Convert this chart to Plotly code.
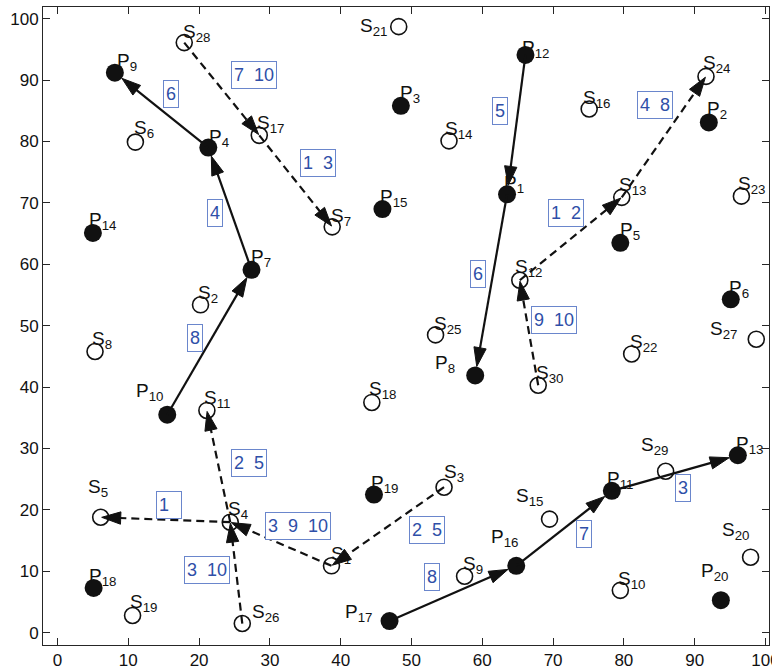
import plotly.graph_objects as go

# ---------------- data ----------------
p_ids = list(range(1, 21))
p_x = [63.5, 92.0, 48.5, 21.3, 79.5, 95.1, 27.4, 59.0, 8.1, 15.5,
       78.3, 66.1, 96.1, 5.0, 45.9, 64.8, 46.9, 5.1, 44.7, 93.7]
p_y = [71.4, 83.1, 85.8, 79.0, 63.5, 54.3, 59.1, 41.9, 91.2, 35.5,
       23.1, 94.1, 28.9, 65.1, 69.0, 10.9, 1.9, 7.3, 22.5, 5.3]

s_ids = list(range(1, 31))
s_x = [38.7, 20.2, 54.6, 24.4, 6.1, 11.0, 38.8, 5.3, 57.5, 79.5,
       21.1, 65.3, 79.7, 55.3, 69.5, 75.1, 28.5, 44.4, 10.6, 97.9,
       48.2, 81.1, 96.6, 91.6, 53.4, 26.1, 98.7, 17.9, 85.9, 67.9]
s_y = [10.9, 53.4, 23.7, 18.0, 18.8, 79.9, 66.1, 45.8, 9.2, 6.9,
       36.2, 57.4, 70.9, 80.1, 18.5, 85.3, 81.0, 37.5, 2.8, 12.3,
       98.7, 45.4, 71.1, 90.6, 48.5, 1.5, 47.8, 96.1, 26.3, 40.3]

# solid routes between P points (from, to)
p_routes = [(17, 16), (16, 11), (11, 13), (10, 7), (7, 4), (4, 9), (12, 1), (1, 8)]
# dashed routes between S points (from, to)
s_routes = [(28, 17), (17, 7), (26, 4), (4, 5), (4, 11), (1, 4), (3, 1), (30, 12), (12, 13), (13, 24)]

# route labels (vehicle numbers)
box_text = ["8", "7", "3", "8", "4", "6", "5", "6",
            "7 10", "1 3", "3 10", "1 ", "2 5", "3 9 10", "2 5", "9 10", "1 2", "4 8"]
box_x = [52.9, 74.3, 88.3, 19.4, 22.3, 16.0, 62.5, 59.4,
         27.7, 36.8, 21.1, 15.7, 27.0, 34.0, 52.2, 70.2, 71.8, 84.4]
box_y = [9.0, 16.1, 23.5, 48.0, 68.3, 87.7, 84.9, 58.4,
         90.8, 76.5, 10.2, 20.8, 27.6, 17.4, 16.7, 50.9, 68.3, 85.9]

x_ticks = [0, 10, 20, 30, 40, 50, 60, 70, 80, 90, 100]
y_ticks = [0, 10, 20, 30, 40, 50, 60, 70, 80, 90, 100]

# ---------------- styles ----------------
# label offsets in pixels (dx right, dy up) of label centre relative to marker
p_off = {1: (7, 10), 2: (8, 12), 3: (9, 12), 4: (11, 10), 5: (10, 12), 6: (8, 10),
         7: (10, 12), 8: (-30, 11), 9: (12, 11), 10: (-18, 23), 11: (9, 11), 12: (10, 6),
         13: (12, 10), 14: (10, 12), 15: (11, 11), 16: (-12, 28), 17: (-31, 8), 18: (9, 11),
         19: (11, 11), 20: (-6, 28)}
s_off = {1: (10, 11), 2: (7, 11), 3: (10, 14), 4: (8, 12), 5: (-3, 29), 6: (9, 13),
         7: (9, 10), 8: (7, 11), 9: (8, 11), 10: (11, 10), 11: (11, 11), 12: (9, 12),
         13: (11, 11), 14: (9, 11), 15: (-20, 22), 16: (7, 10), 17: (11, 11), 18: (11, 12),
         19: (11, 13), 20: (-15, 26), 21: (-25, 0), 22: (12, 11), 23: (10, 11), 24: (11, 12),
         25: (12, 10), 26: (23, 11), 27: (-33, 9), 28: (12, 10), 29: (-11, 25), 30: (11, 11)}

FONT = "Liberation Sans, Arial, Helvetica, sans-serif"
INK = "#111111"
BLUE_TXT = "#2f4fa8"
BLUE_BOX = "#6a86cc"

fig = go.Figure()

# markers
fig.add_trace(go.Scatter(x=s_x, y=s_y, mode="markers", hoverinfo="skip",
                         marker=dict(symbol="circle-open", size=16, color=INK, opacity=1,
                                     line=dict(width=1.6, color=INK)), showlegend=False))
fig.add_trace(go.Scatter(x=p_x, y=p_y, mode="markers", hoverinfo="skip",
                         marker=dict(symbol="circle", size=18, color=INK, opacity=1),
                         showlegend=False))


def add_arrow(x0, y0, x1, y1, dash, standoff):
    fig.add_trace(go.Scatter(
        x=[x0, x1], y=[y0, y1], mode="lines+markers", hoverinfo="skip", showlegend=False,
        line=dict(color=INK, width=2.2, dash=dash),
        marker=dict(symbol=["circle", "arrow"], size=[0, 20], color=INK, opacity=1,
                    line=dict(width=1, color=INK),
                    angleref="previous", standoff=[0, standoff])))


for a, b in p_routes:
    add_arrow(p_x[a - 1], p_y[a - 1], p_x[b - 1], p_y[b - 1], "solid", 9)
for a, b in s_routes:
    add_arrow(s_x[a - 1], s_y[a - 1], s_x[b - 1], s_y[b - 1], "8px,5px", 1)

ann = []
for i, pid in enumerate(p_ids):
    dx, dy = p_off[pid]
    ann.append(dict(x=p_x[i], y=p_y[i], xref="x", yref="y", showarrow=False,
                    text=f"P<sub>{pid}</sub>", xshift=dx, yshift=dy,
                    font=dict(family=FONT, size=19, color=INK)))
for i, sid in enumerate(s_ids):
    dx, dy = s_off[sid]
    ann.append(dict(x=s_x[i], y=s_y[i], xref="x", yref="y", showarrow=False,
                    text=f"S<sub>{sid}</sub>", xshift=dx, yshift=dy,
                    font=dict(family=FONT, size=19, color=INK)))
for t, bx, by in zip(box_text, box_x, box_y):
    ann.append(dict(x=bx, y=by, xref="x", yref="y", showarrow=False,
                    text=t.replace(" ", "&nbsp;&nbsp;"), height=22,
                    font=dict(family=FONT, size=18, color=BLUE_TXT),
                    bordercolor=BLUE_BOX, borderwidth=1, borderpad=2, bgcolor="white"))

axis_common = dict(showgrid=False, zeroline=False, showline=True, mirror="ticks",
                   linecolor="#262626", linewidth=1, ticks="inside", ticklen=7,
                   tickcolor="#262626", ticklabeloverflow="allow", automargin=False,
                   tickfont=dict(family=FONT, size=17, color=INK))

fig.update_layout(
    width=772, height=669,
    margin=dict(l=43, r=3, t=7, b=24, autoexpand=False),
    paper_bgcolor="white", plot_bgcolor="white",
    annotations=ann,
    xaxis=dict(range=[-2.05, 100.5], tickvals=x_ticks, ticktext=[str(v) for v in x_ticks],
               **axis_common),
    yaxis=dict(range=[-2.0, 101.9], tickvals=y_ticks, ticktext=[str(v) for v in y_ticks],
               **axis_common),
)

fig.write_html("out.html")
